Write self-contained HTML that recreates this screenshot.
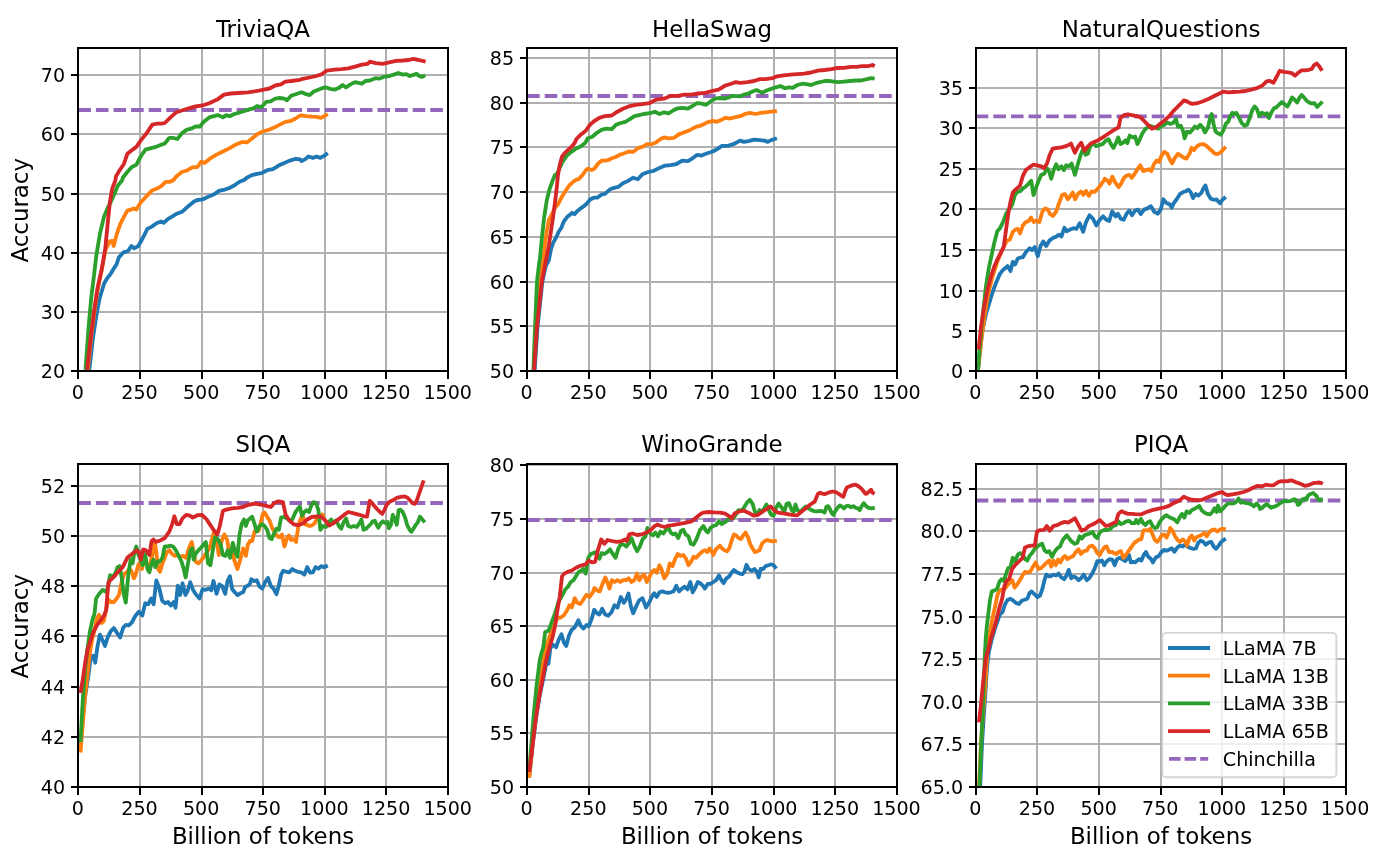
<!DOCTYPE html>
<html><head><meta charset="utf-8"><title>LLaMA training curves</title>
<style>html,body{margin:0;padding:0;background:#fff}svg{display:block}</style></head>
<body>
<svg width="1375" height="857" viewBox="0 0 1375 857" font-family="'DejaVu Sans', 'Liberation Sans', sans-serif">
<rect width="1375" height="857" fill="#fff"/>
<g id="ax0">
<clipPath id="clip0"><rect x="78" y="48.0" width="370" height="323.0"/></clipPath>
<path d="M78.00 48.0V371.0M140.00 48.0V371.0M202.00 48.0V371.0M263.00 48.0V371.0M325.00 48.0V371.0M386.00 48.0V371.0M448.00 48.0V371.0M78 371.00H448M78 312.00H448M78 253.00H448M78 194.00H448M78 134.00H448M78 75.00H448" stroke="#b0b0b0" stroke-width="2" fill="none"/>
<g clip-path="url(#clip0)" fill="none" stroke-width="3.82" stroke-linejoin="round" stroke-linecap="butt">
<path d="M78.30 110.00H448" stroke="#9467bd" stroke-dasharray="12.6 5.0"/>
<path d="M89.3 370.0 L92.8 339.3 L96.2 316.5 L99.6 298.3 L104.1 283.5 L107.5 277.8 L111.0 273.3 L114.4 267.6 L116.6 264.2 L118.9 257.4 L123.5 252.3 L128.0 251.0 L131.4 246.0 L134.2 248.3 L138.3 246.0 L142.8 238.0 L147.4 228.9 L151.9 226.6 L156.5 223.2 L161.0 221.4 L163.7 222.8 L167.8 219.1 L172.4 216.4 L176.9 213.7 L182.6 211.4 L188.3 206.2 L194.0 201.6 L197.4 200.0 L203.1 199.3 L208.8 196.4 L214.5 194.1 L219.0 190.9 L224.7 189.6 L229.3 188.0 L235.0 185.0 L239.5 181.8 L244.1 180.0 L246.8 177.7 L251.3 175.4 L257.0 173.8 L261.6 173.1 L267.2 170.2 L272.9 169.2 L278.6 165.6 L284.3 162.9 L290.0 160.6 L295.7 158.8 L300.0 159.4 L301.6 161.1 L305.0 159.4 L308.4 156.5 L313.0 157.9 L316.4 156.5 L320.5 157.9 L324.4 155.6 L327.8 153.1" stroke="#1f77b4"/>
<path d="M87.8 370.0 L90.9 339.3 L94.1 314.2 L97.3 291.5 L101.8 269.9 L105.3 250.5 L107.5 246.0 L109.8 241.4 L112.1 241.0 L113.7 246.0 L116.6 234.6 L120.1 224.4 L123.5 217.5 L127.3 210.7 L131.0 209.6 L133.7 208.4 L136.4 209.6 L140.5 202.8 L145.1 197.8 L148.5 194.1 L152.4 190.2 L156.5 188.7 L161.0 186.4 L165.6 181.8 L170.1 181.8 L173.5 180.0 L176.2 176.5 L181.9 172.0 L187.6 170.2 L192.2 167.4 L197.4 167.0 L201.2 161.7 L204.7 162.9 L210.3 158.3 L216.0 154.9 L222.9 151.5 L229.7 148.1 L236.5 144.2 L242.2 141.9 L246.8 142.4 L251.3 139.0 L257.0 134.4 L262.7 131.5 L268.4 129.9 L274.1 127.6 L279.8 124.6 L285.4 121.9 L291.1 120.8 L295.7 118.5 L300.0 115.5 L301.6 115.5 L306.2 116.2 L311.9 116.7 L316.4 116.9 L321.0 117.8 L324.4 116.2 L327.8 114.0" stroke="#ff7f0e"/>
<path d="M85.5 370.0 L88.7 325.6 L91.2 298.3 L93.7 277.8 L96.4 255.1 L100.0 233.5 L104.1 216.4 L107.5 208.4 L111.0 201.6 L114.4 193.7 L117.8 185.7 L122.3 180.0 L122.8 177.7 L127.3 172.0 L131.8 167.0 L136.4 164.7 L141.0 156.0 L145.5 149.7 L151.2 148.1 L155.8 146.9 L160.3 145.1 L164.8 143.5 L169.4 137.8 L172.8 137.8 L177.4 139.0 L181.9 133.3 L186.5 129.9 L191.0 128.7 L195.6 126.5 L200.1 126.5 L203.5 121.9 L209.2 117.4 L213.8 116.2 L218.3 115.1 L222.9 117.4 L226.3 115.1 L229.7 116.2 L234.2 114.0 L238.8 112.8 L244.5 111.0 L249.0 109.4 L253.6 108.3 L257.0 106.0 L261.6 107.1 L266.1 101.9 L270.6 101.4 L275.2 98.7 L279.8 98.0 L284.3 98.7 L287.0 100.3 L291.1 95.8 L295.7 94.2 L300.0 92.8 L301.6 92.3 L306.2 94.2 L309.6 95.1 L314.1 91.2 L317.5 90.1 L322.1 88.2 L325.5 87.3 L330.1 88.9 L334.6 89.6 L339.2 87.8 L342.6 85.0 L346.0 87.3 L350.5 84.4 L355.1 82.1 L358.5 82.8 L361.9 83.7 L365.3 81.0 L369.9 80.5 L375.6 78.2 L379.0 78.7 L383.5 76.9 L389.2 76.0 L393.8 74.6 L398.3 73.0 L402.9 74.6 L406.3 74.1 L409.7 76.0 L414.2 74.6 L416.5 73.7 L419.2 76.0 L422.2 76.9 L425.2 75.3" stroke="#2ca02c"/>
<path d="M87.1 370.0 L90.5 339.3 L93.9 312.0 L97.3 289.2 L101.8 268.7 L105.3 248.3 L107.5 225.5 L109.8 202.8 L112.1 189.1 L115.5 180.0 L115.9 176.5 L119.3 170.8 L123.9 164.0 L127.3 153.8 L131.8 150.3 L136.4 146.9 L141.0 140.1 L146.6 133.3 L152.3 124.6 L156.9 123.7 L161.4 123.7 L164.8 123.0 L170.5 117.4 L176.2 112.3 L181.9 110.5 L188.7 108.3 L195.6 106.4 L202.4 105.5 L209.2 103.2 L217.2 99.6 L224.0 94.6 L230.8 93.5 L238.8 93.0 L247.9 92.3 L257.0 91.0 L263.8 89.6 L269.5 88.5 L275.2 85.5 L280.9 84.4 L285.4 81.6 L291.1 81.0 L300.0 79.8 L301.6 79.1 L309.6 77.5 L316.4 76.0 L322.1 74.1 L326.6 70.7 L334.6 69.6 L341.4 69.1 L348.3 68.4 L355.1 66.6 L361.9 64.6 L367.6 63.9 L369.9 61.6 L375.6 63.2 L382.4 63.9 L389.2 62.3 L396.0 60.9 L402.9 60.5 L408.6 60.0 L413.1 58.9 L418.8 60.0 L425.6 61.6" stroke="#d62728"/>
</g>
<path d="M78.00 371.0v7.9M140.00 371.0v7.9M202.00 371.0v7.9M263.00 371.0v7.9M325.00 371.0v7.9M386.00 371.0v7.9M448.00 371.0v7.9M78 371.00h-7M78 312.00h-7M78 253.00h-7M78 194.00h-7M78 134.00h-7M78 75.00h-7" stroke="#000" stroke-width="2" fill="none"/>
<rect x="78" y="48.0" width="370" height="323.0" fill="none" stroke="#000" stroke-width="2"/>
<g font-size="19.1" fill="#000">
<text x="77.90" y="399.00" text-anchor="middle">0</text>
<text x="139.53" y="399.00" text-anchor="middle">250</text>
<text x="201.16" y="399.00" text-anchor="middle">500</text>
<text x="262.79" y="399.00" text-anchor="middle">750</text>
<text x="324.42" y="399.00" text-anchor="middle">1000</text>
<text x="386.05" y="399.00" text-anchor="middle">1250</text>
<text x="447.68" y="399.00" text-anchor="middle">1500</text>
<text x="65.10" y="378.20" text-anchor="end">20</text>
<text x="65.10" y="319.20" text-anchor="end">30</text>
<text x="65.10" y="260.20" text-anchor="end">40</text>
<text x="65.10" y="201.20" text-anchor="end">50</text>
<text x="65.10" y="141.20" text-anchor="end">60</text>
<text x="65.10" y="82.20" text-anchor="end">70</text>
</g>
<text x="263.00" y="37.2" font-size="22.9" text-anchor="middle">TriviaQA</text>
<text x="0" y="0" font-size="22.9" text-anchor="middle" transform="translate(28,210.30) rotate(-90)">Accuracy</text>
</g>
<g id="ax1">
<clipPath id="clip1"><rect x="527" y="48.0" width="370" height="323.0"/></clipPath>
<path d="M527.00 48.0V371.0M589.00 48.0V371.0M650.00 48.0V371.0M712.00 48.0V371.0M774.00 48.0V371.0M835.00 48.0V371.0M897.00 48.0V371.0M527 371.00H897M527 326.00H897M527 282.00H897M527 237.00H897M527 192.00H897M527 147.00H897M527 103.00H897M527 58.00H897" stroke="#b0b0b0" stroke-width="2" fill="none"/>
<g clip-path="url(#clip1)" fill="none" stroke-width="3.82" stroke-linejoin="round" stroke-linecap="butt">
<path d="M527.10 96.00H897" stroke="#9467bd" stroke-dasharray="12.6 5.0"/>
<path d="M534.4 375.0 L534.7 369.8 L537.5 327.1 L542.4 281.6 L545.8 266.0 L548.9 260.0 L551.0 249.2 L553.1 242.9 L555.9 238.0 L558.7 231.7 L561.5 227.5 L563.6 221.9 L567.1 217.0 L570.6 214.2 L572.0 212.8 L574.5 214.2 L576.9 211.4 L580.4 208.6 L584.6 205.6 L587.4 203.0 L590.2 199.5 L593.7 197.7 L597.2 197.7 L601.4 194.6 L604.9 193.9 L610.0 189.3 L614.0 187.9 L618.5 186.8 L623.0 183.3 L627.6 181.1 L633.3 177.7 L637.8 179.2 L642.4 174.2 L648.1 172.0 L653.8 170.8 L659.5 167.9 L665.1 165.6 L670.8 165.1 L676.5 164.0 L682.2 160.6 L687.9 161.1 L692.5 158.3 L697.0 154.9 L701.5 155.6 L707.2 153.3 L712.9 151.5 L717.5 148.8 L722.0 145.8 L727.7 145.8 L733.4 144.2 L740.0 140.6 L743.9 141.9 L748.4 141.2 L754.1 139.7 L759.8 140.1 L764.4 140.6 L767.8 141.9 L771.2 140.1 L776.9 138.3" stroke="#1f77b4"/>
<path d="M533.5 375.0 L536.0 327.1 L539.5 281.6 L542.6 262.0 L543.3 260.0 L544.7 246.4 L546.5 232.4 L548.9 219.8 L551.0 216.3 L554.5 208.6 L558.0 204.4 L561.5 197.4 L565.0 191.8 L569.2 185.5 L573.4 181.7 L576.2 179.9 L579.0 178.9 L582.5 175.0 L586.0 170.1 L588.1 168.7 L591.6 170.1 L594.4 168.7 L597.9 163.8 L601.4 160.7 L604.9 160.7 L610.0 159.6 L610.5 158.8 L615.1 157.2 L619.6 154.9 L624.2 153.3 L628.7 151.5 L633.3 151.9 L637.8 148.1 L642.4 146.9 L646.9 144.2 L651.5 144.2 L656.0 142.4 L660.6 139.0 L664.0 137.4 L668.6 138.3 L674.2 137.8 L678.8 134.4 L684.5 132.2 L690.2 129.9 L695.9 126.9 L701.5 125.3 L707.2 122.4 L712.9 120.8 L716.3 121.9 L720.9 120.1 L725.4 117.8 L730.0 118.5 L734.5 117.4 L740.0 116.2 L740.5 116.2 L745.0 114.0 L749.6 112.8 L755.3 114.0 L761.0 112.8 L765.5 112.3 L771.2 111.7 L776.9 111.0" stroke="#ff7f0e"/>
<path d="M533.2 375.0 L535.0 327.1 L537.0 281.6 L539.3 262.0 L539.8 260.0 L541.9 238.0 L544.0 218.4 L546.8 200.2 L549.6 189.0 L552.4 181.3 L554.9 175.0 L556.6 174.3 L558.7 170.1 L562.2 162.4 L566.4 156.1 L571.3 151.9 L576.2 148.4 L581.1 146.3 L585.3 142.8 L587.8 138.3 L592.3 136.7 L596.9 132.8 L601.4 129.9 L606.0 128.7 L611.7 129.2 L616.2 124.6 L620.8 123.0 L625.3 121.9 L629.9 119.2 L634.4 116.2 L639.0 115.1 L643.5 114.0 L648.1 113.3 L651.5 112.8 L654.9 111.7 L659.5 114.0 L664.0 112.3 L668.6 113.3 L673.1 110.5 L677.7 108.3 L682.2 107.8 L687.9 108.7 L692.5 106.0 L697.0 103.2 L701.5 103.7 L706.1 104.8 L710.6 101.4 L715.2 98.7 L719.8 98.0 L724.3 98.7 L728.9 97.3 L733.4 95.8 L740.0 96.4 L743.9 94.6 L748.4 93.5 L753.0 91.2 L756.4 90.1 L762.1 92.8 L766.6 90.5 L771.2 88.9 L775.8 87.3 L780.3 86.0 L784.9 88.2 L789.4 87.3 L792.8 87.8 L797.4 85.0 L803.0 83.7 L807.6 84.4 L811.0 85.0 L815.6 83.2 L820.1 82.1 L824.7 81.0 L829.2 81.0 L833.8 81.6 L838.3 82.1 L844.0 81.6 L849.7 81.0 L855.4 80.5 L861.1 80.5 L866.8 79.1 L871.3 78.2 L874.7 78.7" stroke="#2ca02c"/>
<path d="M533.8 375.0 L534.1 369.8 L536.9 327.1 L541.8 281.6 L545.6 262.0 L546.1 260.0 L548.9 245.0 L551.0 231.0 L553.1 217.0 L554.9 203.0 L556.6 189.0 L558.0 175.0 L559.7 165.2 L561.9 156.8 L563.9 154.0 L567.8 150.1 L572.0 146.3 L574.8 142.8 L576.4 139.0 L581.0 134.4 L585.5 131.0 L590.1 124.6 L594.6 120.8 L599.2 117.8 L604.9 116.2 L611.7 115.5 L617.4 111.7 L623.0 108.7 L628.7 106.4 L635.6 104.8 L642.4 104.2 L649.2 103.2 L656.0 99.6 L664.0 98.7 L670.8 95.8 L677.7 95.8 L684.5 94.6 L691.3 94.6 L698.1 93.5 L705.0 92.8 L711.8 91.2 L718.6 89.6 L725.4 85.5 L731.1 83.7 L735.7 82.1 L740.0 82.8 L740.5 82.8 L747.3 82.1 L754.1 81.0 L759.8 79.1 L765.5 79.1 L772.3 78.2 L776.9 76.4 L783.7 75.3 L790.5 74.6 L797.4 74.1 L804.2 73.7 L811.0 72.5 L817.8 70.7 L824.7 70.0 L831.5 69.1 L837.2 68.0 L844.0 67.8 L850.8 66.8 L856.5 66.8 L862.2 66.2 L867.9 66.2 L872.5 65.0 L874.7 66.2" stroke="#d62728"/>
</g>
<path d="M527.00 371.0v7.9M589.00 371.0v7.9M650.00 371.0v7.9M712.00 371.0v7.9M774.00 371.0v7.9M835.00 371.0v7.9M897.00 371.0v7.9M527 371.00h-7M527 326.00h-7M527 282.00h-7M527 237.00h-7M527 192.00h-7M527 147.00h-7M527 103.00h-7M527 58.00h-7" stroke="#000" stroke-width="2" fill="none"/>
<rect x="527" y="48.0" width="370" height="323.0" fill="none" stroke="#000" stroke-width="2"/>
<g font-size="19.1" fill="#000">
<text x="526.70" y="399.00" text-anchor="middle">0</text>
<text x="588.33" y="399.00" text-anchor="middle">250</text>
<text x="649.96" y="399.00" text-anchor="middle">500</text>
<text x="711.59" y="399.00" text-anchor="middle">750</text>
<text x="773.22" y="399.00" text-anchor="middle">1000</text>
<text x="834.85" y="399.00" text-anchor="middle">1250</text>
<text x="896.48" y="399.00" text-anchor="middle">1500</text>
<text x="514.10" y="378.20" text-anchor="end">50</text>
<text x="514.10" y="333.20" text-anchor="end">55</text>
<text x="514.10" y="289.20" text-anchor="end">60</text>
<text x="514.10" y="244.20" text-anchor="end">65</text>
<text x="514.10" y="199.20" text-anchor="end">70</text>
<text x="514.10" y="154.20" text-anchor="end">75</text>
<text x="514.10" y="110.20" text-anchor="end">80</text>
<text x="514.10" y="65.20" text-anchor="end">85</text>
</g>
<text x="712.00" y="37.2" font-size="22.9" text-anchor="middle">HellaSwag</text>
</g>
<g id="ax2">
<clipPath id="clip2"><rect x="976" y="48.0" width="370" height="323.0"/></clipPath>
<path d="M976.00 48.0V371.0M1037.00 48.0V371.0M1099.00 48.0V371.0M1161.00 48.0V371.0M1222.00 48.0V371.0M1284.00 48.0V371.0M1346.00 48.0V371.0M976 371.00H1346M976 331.00H1346M976 291.00H1346M976 250.00H1346M976 209.00H1346M976 169.00H1346M976 128.00H1346M976 88.00H1346" stroke="#b0b0b0" stroke-width="2" fill="none"/>
<g clip-path="url(#clip2)" fill="none" stroke-width="3.82" stroke-linejoin="round" stroke-linecap="butt">
<path d="M975.75 116.40H1346" stroke="#9467bd" stroke-dasharray="12.6 5.0"/>
<path d="M978.0 370.0 L980.2 348.4 L982.5 330.2 L985.9 314.2 L989.3 302.9 L992.8 291.5 L996.2 282.4 L999.6 274.4 L1003.0 269.9 L1006.0 267.6 L1007.5 266.0 L1010.5 271.0 L1012.8 261.9 L1015.0 264.6 L1017.8 258.5 L1020.5 257.4 L1022.8 257.4 L1025.8 252.3 L1029.6 248.3 L1031.9 250.1 L1034.8 247.1 L1037.8 256.2 L1040.5 246.0 L1043.3 241.4 L1046.2 246.0 L1049.6 240.3 L1053.0 238.0 L1056.5 236.4 L1059.2 234.6 L1061.5 236.4 L1064.4 227.8 L1066.7 231.2 L1070.1 229.6 L1073.5 228.2 L1076.5 228.9 L1079.7 223.2 L1083.1 231.9 L1086.0 222.1 L1089.5 215.3 L1092.9 218.7 L1096.3 225.5 L1099.7 219.8 L1103.1 216.4 L1106.5 219.8 L1109.2 221.0 L1112.2 211.4 L1115.6 216.4 L1117.9 213.7 L1120.6 218.7 L1123.6 219.8 L1127.0 213.0 L1129.3 210.7 L1132.0 215.3 L1135.0 210.7 L1137.9 209.6 L1140.7 214.1 L1144.1 209.6 L1147.5 208.4 L1150.9 206.2 L1154.3 211.8 L1157.7 213.7 L1160.7 209.6 L1163.4 199.3 L1166.1 202.8 L1170.0 204.6 L1171.7 207.7 L1174.0 202.8 L1176.9 199.0 L1179.8 194.2 L1182.7 192.3 L1185.6 191.3 L1188.5 189.8 L1190.0 191.3 L1190.6 192.1 L1193.1 197.9 L1195.8 194.0 L1198.3 195.6 L1201.2 193.1 L1203.5 188.2 L1205.4 185.4 L1207.9 194.0 L1210.8 198.8 L1213.7 199.8 L1216.6 199.4 L1220.0 203.3 L1222.7 199.4 L1225.8 196.9" stroke="#1f77b4"/>
<path d="M978.0 370.0 L981.4 339.3 L984.8 314.2 L988.2 293.8 L992.8 275.6 L997.3 261.9 L1001.9 250.5 L1005.3 243.7 L1007.5 240.3 L1009.8 239.6 L1012.8 231.9 L1015.5 229.6 L1017.8 228.9 L1020.1 233.5 L1022.8 225.5 L1025.8 222.1 L1028.7 221.0 L1031.0 217.5 L1033.7 222.1 L1036.4 220.5 L1039.4 222.1 L1042.3 211.8 L1045.1 208.4 L1047.8 209.6 L1050.1 214.1 L1053.0 215.9 L1056.0 211.8 L1059.2 202.8 L1062.2 194.8 L1065.1 194.1 L1067.8 199.3 L1070.6 195.9 L1072.8 192.5 L1075.1 199.3 L1078.1 193.7 L1081.0 191.4 L1083.3 194.8 L1086.0 190.9 L1088.8 195.9 L1091.7 191.4 L1094.7 191.8 L1097.4 189.1 L1100.8 185.0 L1104.2 180.0 L1104.7 178.8 L1107.6 180.7 L1109.5 183.6 L1112.4 176.8 L1115.3 182.6 L1118.6 187.1 L1121.1 183.6 L1124.0 177.8 L1126.8 175.5 L1129.4 174.9 L1131.7 177.8 L1134.6 174.0 L1137.4 169.2 L1140.3 165.3 L1143.2 171.1 L1146.1 170.1 L1149.0 169.2 L1151.3 171.1 L1153.8 164.3 L1156.7 160.5 L1159.0 162.0 L1161.5 155.7 L1164.4 151.8 L1167.3 153.8 L1169.8 159.5 L1172.1 163.4 L1175.0 157.6 L1177.9 153.8 L1180.8 155.7 L1183.7 157.6 L1186.5 158.6 L1190.0 152.8 L1191.5 147.8 L1193.9 150.1 L1196.4 146.8 L1199.2 144.9 L1202.7 144.0 L1206.0 145.5 L1208.9 148.2 L1211.8 150.7 L1214.7 153.6 L1217.5 154.0 L1220.4 152.6 L1223.3 149.4 L1225.8 146.8" stroke="#ff7f0e"/>
<path d="M978.0 370.0 L979.6 348.4 L981.4 327.9 L983.6 307.4 L985.9 286.9 L988.7 268.7 L991.6 255.1 L994.6 241.4 L997.3 231.2 L1000.0 228.2 L1003.0 222.1 L1006.0 214.1 L1009.1 209.1 L1012.1 205.0 L1015.0 194.8 L1018.2 191.4 L1020.0 191.3 L1022.9 188.4 L1025.8 186.5 L1028.7 183.6 L1031.2 180.7 L1033.5 195.1 L1035.4 189.4 L1038.3 181.7 L1041.2 174.9 L1044.1 174.0 L1047.0 168.2 L1049.3 172.0 L1051.2 178.8 L1053.7 170.1 L1056.2 164.3 L1058.5 169.2 L1061.4 166.3 L1063.9 170.1 L1066.2 165.3 L1069.1 166.3 L1071.6 163.4 L1074.9 174.9 L1077.8 164.3 L1080.7 154.7 L1083.2 148.9 L1085.5 154.7 L1087.8 153.8 L1090.3 146.1 L1093.2 143.2 L1096.0 146.1 L1098.9 145.1 L1102.8 144.1 L1105.7 140.8 L1108.6 139.3 L1110.9 144.1 L1113.4 148.0 L1115.9 143.2 L1118.2 137.4 L1120.5 144.1 L1123.0 142.8 L1125.5 140.3 L1127.4 143.2 L1129.7 135.5 L1132.6 137.4 L1135.1 136.4 L1137.4 144.1 L1139.8 139.3 L1142.3 133.5 L1144.8 129.7 L1147.1 127.8 L1150.0 125.8 L1152.8 126.8 L1155.7 127.8 L1158.2 128.7 L1161.5 125.8 L1164.4 124.9 L1167.3 122.4 L1170.2 123.9 L1173.1 123.0 L1176.0 119.1 L1177.9 126.8 L1180.8 125.8 L1183.3 131.6 L1184.6 138.3 L1187.1 131.6 L1190.0 132.6 L1192.5 129.5 L1195.0 126.6 L1197.3 128.2 L1200.2 124.7 L1202.7 127.6 L1205.0 132.4 L1207.9 127.6 L1210.4 117.0 L1211.8 114.1 L1213.7 124.7 L1215.6 131.4 L1218.1 133.4 L1220.8 134.7 L1223.3 130.5 L1225.8 123.8 L1228.1 121.8 L1230.4 116.0 L1232.4 112.8 L1234.3 114.1 L1236.2 112.8 L1238.7 117.0 L1241.6 122.8 L1244.5 125.7 L1247.0 124.7 L1249.7 118.0 L1252.2 110.3 L1254.7 106.4 L1257.0 109.3 L1259.3 116.0 L1261.8 112.8 L1264.7 114.1 L1267.0 113.2 L1269.0 118.0 L1271.5 112.2 L1274.0 108.3 L1276.3 107.4 L1279.2 104.5 L1282.0 102.0 L1284.9 104.5 L1287.4 106.4 L1289.7 102.6 L1292.0 97.4 L1294.6 99.7 L1297.1 102.6 L1299.4 97.8 L1301.7 94.9 L1304.2 97.8 L1306.7 100.7 L1309.4 102.6 L1311.9 103.5 L1314.4 103.2 L1317.1 107.0 L1319.6 104.5 L1322.5 101.6" stroke="#2ca02c"/>
<path d="M978.6 349.5 L980.9 327.9 L983.6 309.7 L987.1 291.5 L990.5 277.8 L993.9 267.6 L997.3 259.6 L1000.7 252.8 L1003.7 247.1 L1006.0 230.1 L1008.2 214.1 L1010.5 201.6 L1012.8 192.5 L1015.5 189.6 L1018.9 186.8 L1020.0 185.5 L1022.9 175.9 L1025.8 170.1 L1029.6 167.2 L1033.5 164.7 L1037.3 165.3 L1041.2 166.3 L1044.1 168.2 L1047.0 163.4 L1049.8 154.7 L1052.7 148.6 L1056.6 148.0 L1061.4 147.4 L1066.2 146.1 L1071.0 143.6 L1074.9 152.8 L1077.8 147.0 L1081.2 142.8 L1084.5 150.9 L1087.4 147.0 L1091.2 143.2 L1097.0 140.8 L1102.8 137.4 L1108.6 133.5 L1114.3 129.7 L1118.6 127.4 L1120.5 117.8 L1124.0 115.2 L1127.8 114.3 L1131.7 115.2 L1136.5 116.2 L1140.3 117.2 L1144.2 121.0 L1148.0 124.9 L1151.9 128.7 L1155.7 127.4 L1160.5 123.5 L1165.4 119.7 L1169.2 116.2 L1173.1 111.4 L1176.9 107.5 L1180.8 103.7 L1183.7 100.4 L1186.5 101.2 L1190.0 103.1 L1192.5 103.9 L1197.3 103.2 L1203.1 101.2 L1208.9 98.7 L1214.7 95.8 L1219.5 93.5 L1223.3 91.6 L1228.1 92.4 L1233.9 92.0 L1239.7 91.6 L1245.5 91.0 L1251.2 89.7 L1257.0 88.1 L1262.8 85.2 L1266.6 81.4 L1269.5 80.8 L1273.4 82.7 L1276.3 77.5 L1279.7 70.8 L1284.0 71.8 L1287.8 72.3 L1291.7 73.1 L1295.1 75.6 L1297.8 73.1 L1301.3 70.4 L1305.1 70.4 L1309.0 69.8 L1311.9 68.9 L1313.8 65.4 L1316.7 63.5 L1319.0 66.0 L1322.1 70.8" stroke="#d62728"/>
</g>
<path d="M976.00 371.0v7.9M1037.00 371.0v7.9M1099.00 371.0v7.9M1161.00 371.0v7.9M1222.00 371.0v7.9M1284.00 371.0v7.9M1346.00 371.0v7.9M976 371.00h-7M976 331.00h-7M976 291.00h-7M976 250.00h-7M976 209.00h-7M976 169.00h-7M976 128.00h-7M976 88.00h-7" stroke="#000" stroke-width="2" fill="none"/>
<rect x="976" y="48.0" width="370" height="323.0" fill="none" stroke="#000" stroke-width="2"/>
<g font-size="19.1" fill="#000">
<text x="975.35" y="399.00" text-anchor="middle">0</text>
<text x="1036.98" y="399.00" text-anchor="middle">250</text>
<text x="1098.61" y="399.00" text-anchor="middle">500</text>
<text x="1160.24" y="399.00" text-anchor="middle">750</text>
<text x="1221.87" y="399.00" text-anchor="middle">1000</text>
<text x="1283.50" y="399.00" text-anchor="middle">1250</text>
<text x="1345.13" y="399.00" text-anchor="middle">1500</text>
<text x="963.10" y="378.20" text-anchor="end">0</text>
<text x="963.10" y="338.20" text-anchor="end">5</text>
<text x="963.10" y="298.20" text-anchor="end">10</text>
<text x="963.10" y="257.20" text-anchor="end">15</text>
<text x="963.10" y="216.20" text-anchor="end">20</text>
<text x="963.10" y="176.20" text-anchor="end">25</text>
<text x="963.10" y="135.20" text-anchor="end">30</text>
<text x="963.10" y="95.20" text-anchor="end">35</text>
</g>
<text x="1161.00" y="37.2" font-size="22.9" text-anchor="middle">NaturalQuestions</text>
</g>
<g id="ax3">
<clipPath id="clip3"><rect x="78" y="464.0" width="370" height="323.0"/></clipPath>
<path d="M78.00 464.0V787.0M140.00 464.0V787.0M202.00 464.0V787.0M263.00 464.0V787.0M325.00 464.0V787.0M386.00 464.0V787.0M448.00 464.0V787.0M78 787.00H448M78 737.00H448M78 687.00H448M78 636.00H448M78 586.00H448M78 536.00H448M78 486.00H448" stroke="#b0b0b0" stroke-width="2" fill="none"/>
<g clip-path="url(#clip3)" fill="none" stroke-width="3.82" stroke-linejoin="round" stroke-linecap="butt">
<path d="M78.30 503.00H448" stroke="#9467bd" stroke-dasharray="12.6 5.0"/>
<path d="M80.5 744.4 L82.8 718.7 L85.2 695.4 L88.2 676.7 L90.5 659.2 L92.9 655.7 L95.2 662.7 L97.5 646.4 L99.9 634.7 L102.7 640.5 L105.0 645.9 L107.8 637.0 L110.8 631.2 L113.9 628.1 L116.7 632.4 L120.2 637.5 L123.2 627.7 L126.0 624.9 L128.8 625.3 L131.8 622.5 L135.3 616.0 L138.8 611.8 L142.3 615.5 L145.2 603.2 L148.2 604.3 L151.2 598.5 L153.6 604.3 L156.3 580.5 L159.2 588.0 L162.2 600.8 L165.2 603.2 L168.0 602.0 L170.8 605.5 L173.8 602.0 L175.5 607.8 L177.8 585.7 L180.2 595.0 L182.5 583.3 L185.5 595.0 L187.8 590.3 L190.2 582.2 L193.2 590.3 L196.0 594.5 L199.5 598.5 L202.6 589.2 L205.4 589.9 L208.9 588.5 L211.2 590.3 L213.5 581.0 L216.6 593.8 L219.4 584.5 L222.2 586.1 L225.2 593.8 L227.5 581.0 L229.9 576.3 L232.2 589.2 L235.2 592.7 L237.6 595.0 L239.9 593.8 L240.3 593.2 L243.1 592.3 L245.3 586.7 L247.8 585.8 L250.0 583.9 L251.2 579.2 L254.0 581.1 L256.8 580.2 L259.6 586.7 L262.4 588.6 L265.2 582.0 L268.0 577.9 L270.8 585.8 L273.6 588.6 L276.4 594.2 L278.8 585.8 L281.1 574.6 L283.3 570.8 L286.7 571.8 L289.5 572.3 L292.3 569.0 L295.1 570.8 L297.9 571.8 L301.2 572.3 L304.4 574.6 L307.2 567.1 L310.0 572.7 L312.8 572.3 L315.6 567.1 L318.4 568.6 L321.2 566.1 L324.0 567.1 L327.8 565.6" stroke="#1f77b4"/>
<path d="M80.5 752.5 L82.8 723.4 L85.2 695.4 L87.5 674.4 L89.8 653.4 L92.2 639.4 L94.5 630.0 L96.8 618.3 L99.2 614.8 L101.5 623.0 L103.8 621.1 L106.2 609.0 L108.5 599.7 L110.8 602.0 L113.9 602.0 L116.7 598.5 L119.0 595.0 L121.3 583.3 L124.1 574.0 L127.2 571.7 L129.2 569.0 L131.4 570.8 L133.9 578.3 L135.7 574.6 L138.2 565.2 L140.0 562.4 L141.9 569.0 L144.1 559.6 L146.4 563.4 L148.8 567.1 L150.7 561.5 L153.1 552.1 L155.0 543.8 L156.3 552.1 L158.2 569.0 L160.0 571.8 L162.4 563.4 L164.7 557.8 L166.9 552.1 L169.3 550.3 L172.2 554.0 L174.9 555.9 L177.8 555.0 L180.6 556.8 L183.3 555.9 L186.2 557.8 L188.9 548.4 L191.8 541.9 L193.6 552.1 L195.5 561.5 L198.3 563.4 L201.1 560.5 L203.9 556.8 L206.7 552.1 L209.5 548.4 L212.3 538.1 L214.2 531.6 L216.6 541.0 L218.8 555.0 L221.6 541.0 L224.4 534.4 L227.2 540.0 L229.7 555.9 L232.3 552.1 L234.7 561.5 L237.5 569.0 L240.3 559.6 L243.1 548.4 L245.9 555.9 L247.8 544.7 L250.0 541.0 L252.1 541.0 L254.6 531.6 L256.8 527.9 L258.7 530.7 L260.9 522.3 L262.8 513.9 L264.6 512.6 L267.1 516.7 L269.9 521.3 L272.1 527.9 L274.5 531.6 L277.3 536.3 L279.6 537.2 L282.0 534.4 L284.4 546.5 L286.7 539.1 L288.9 535.4 L291.3 540.0 L293.8 539.1 L296.0 541.9 L298.2 527.0 L300.1 520.4 L302.6 514.8 L305.0 524.1 L307.6 525.1 L310.0 526.0 L312.4 525.1 L314.7 523.2 L317.5 517.6 L320.3 515.7 L322.1 514.4 L324.4 516.7" stroke="#ff7f0e"/>
<path d="M80.5 742.0 L82.8 700.0 L85.2 667.4 L87.5 648.7 L89.8 632.4 L92.2 620.7 L94.5 613.7 L96.1 598.5 L99.2 593.8 L102.7 589.9 L105.5 591.5 L107.8 588.0 L110.1 575.2 L112.5 577.5 L115.5 572.8 L117.6 567.1 L119.5 566.1 L121.7 577.4 L123.6 593.2 L125.8 602.6 L128.3 574.6 L130.7 559.6 L132.6 563.4 L134.4 552.1 L136.3 546.5 L138.2 554.0 L140.4 559.6 L142.7 565.2 L145.1 554.0 L147.5 569.0 L149.4 572.3 L151.6 563.4 L153.5 559.6 L155.3 567.1 L157.6 561.5 L160.0 561.5 L162.4 557.8 L164.7 546.5 L167.5 546.5 L170.3 545.6 L173.1 546.5 L175.9 550.3 L178.7 555.9 L181.5 561.5 L183.7 569.0 L185.6 577.4 L188.0 563.4 L190.4 550.3 L192.3 548.4 L193.6 559.6 L195.5 554.0 L198.3 550.3 L201.1 547.5 L203.5 544.7 L205.8 541.9 L208.0 563.4 L210.4 565.2 L212.8 550.3 L215.1 537.2 L217.9 539.1 L220.7 544.7 L222.9 555.0 L225.4 555.9 L227.8 550.3 L230.0 557.8 L232.8 542.8 L235.3 552.1 L237.5 556.8 L239.4 535.4 L241.6 524.1 L244.0 519.5 L245.9 526.0 L247.8 520.4 L250.0 518.5 L252.1 516.7 L254.6 524.1 L256.8 531.6 L259.6 526.0 L262.0 524.1 L264.6 526.0 L267.1 529.8 L269.5 538.1 L271.7 539.1 L274.0 533.5 L276.4 528.8 L278.8 529.8 L281.1 517.6 L283.9 516.7 L286.7 518.5 L289.5 520.4 L292.3 519.5 L295.1 512.9 L297.5 509.2 L299.8 506.4 L302.0 515.7 L304.4 512.0 L306.8 510.1 L309.1 512.0 L311.3 505.5 L313.8 502.1 L316.2 503.6 L318.4 510.1 L320.3 529.8 L323.1 526.0 L325.9 527.0 L328.7 522.3 L331.1 519.5 L333.4 523.2 L336.1 520.4 L338.9 526.0 L341.2 528.8 L343.6 522.3 L346.1 518.5 L348.3 526.0 L351.1 527.0 L353.9 526.0 L356.7 527.0 L359.5 523.2 L361.4 519.5 L363.6 529.8 L366.0 528.8 L368.8 526.0 L371.6 523.2 L372.3 521.8 L374.7 520.7 L376.4 524.2 L378.2 527.7 L380.5 523.6 L382.8 521.3 L385.2 523.0 L387.3 521.8 L388.9 528.3 L390.8 525.3 L392.8 514.8 L394.5 518.3 L396.8 524.8 L398.6 510.2 L400.3 509.6 L402.7 511.9 L405.0 517.2 L407.3 525.3 L409.7 530.0 L411.4 531.8 L413.4 528.8 L415.5 525.3 L417.8 522.4 L419.9 516.6 L421.9 518.9 L424.8 522.4" stroke="#2ca02c"/>
<path d="M80.5 693.0 L82.8 679.0 L85.2 662.7 L87.5 649.9 L90.5 640.5 L93.3 632.4 L96.8 625.3 L100.3 620.7 L103.8 616.0 L106.2 610.2 L107.3 595.0 L108.5 582.2 L112.0 578.7 L114.3 576.4 L118.0 571.8 L122.7 567.1 L127.3 557.8 L132.0 554.0 L136.7 550.3 L138.9 552.1 L140.8 559.6 L143.2 549.4 L146.0 550.3 L149.4 555.0 L151.6 541.0 L153.5 539.5 L155.7 541.9 L160.0 540.6 L164.7 538.1 L169.3 531.6 L172.2 524.1 L174.4 516.3 L176.8 524.1 L179.6 524.1 L182.4 518.5 L186.2 514.8 L189.9 515.7 L192.7 517.6 L197.4 515.2 L202.0 514.8 L206.7 519.5 L210.4 525.1 L214.2 530.7 L217.3 534.4 L219.8 526.0 L222.9 511.1 L226.3 509.6 L231.9 508.3 L237.5 507.9 L243.1 507.0 L247.8 505.1 L250.0 504.5 L254.9 503.6 L260.5 504.5 L266.1 505.9 L270.8 507.0 L274.5 502.7 L278.3 501.4 L282.9 502.1 L285.7 514.8 L289.5 520.8 L294.1 524.5 L298.8 525.1 L303.5 523.2 L307.2 519.5 L311.9 517.0 L316.6 516.3 L321.2 516.7 L324.9 520.0 L329.2 525.6 L333.4 523.2 L338.9 518.9 L344.6 514.4 L348.3 512.0 L353.9 513.3 L359.5 514.8 L364.2 516.3 L367.0 516.7 L369.8 500.8 L372.6 503.6 L373.5 504.9 L377.0 509.0 L379.9 511.9 L382.2 513.7 L384.6 509.6 L386.9 504.3 L389.2 502.0 L392.8 500.3 L396.8 497.9 L400.9 496.8 L404.4 496.4 L407.3 497.6 L410.3 500.6 L412.6 503.4 L414.9 503.8 L416.7 500.8 L419.0 493.8 L421.3 487.4 L423.7 480.4" stroke="#d62728"/>
</g>
<path d="M78.00 787.0v7.9M140.00 787.0v7.9M202.00 787.0v7.9M263.00 787.0v7.9M325.00 787.0v7.9M386.00 787.0v7.9M448.00 787.0v7.9M78 787.00h-7M78 737.00h-7M78 687.00h-7M78 636.00h-7M78 586.00h-7M78 536.00h-7M78 486.00h-7" stroke="#000" stroke-width="2" fill="none"/>
<rect x="78" y="464.0" width="370" height="323.0" fill="none" stroke="#000" stroke-width="2"/>
<g font-size="19.1" fill="#000">
<text x="77.90" y="815.00" text-anchor="middle">0</text>
<text x="139.53" y="815.00" text-anchor="middle">250</text>
<text x="201.16" y="815.00" text-anchor="middle">500</text>
<text x="262.79" y="815.00" text-anchor="middle">750</text>
<text x="324.42" y="815.00" text-anchor="middle">1000</text>
<text x="386.05" y="815.00" text-anchor="middle">1250</text>
<text x="447.68" y="815.00" text-anchor="middle">1500</text>
<text x="65.10" y="794.20" text-anchor="end">40</text>
<text x="65.10" y="744.20" text-anchor="end">42</text>
<text x="65.10" y="694.20" text-anchor="end">44</text>
<text x="65.10" y="643.20" text-anchor="end">46</text>
<text x="65.10" y="593.20" text-anchor="end">48</text>
<text x="65.10" y="543.20" text-anchor="end">50</text>
<text x="65.10" y="493.20" text-anchor="end">52</text>
</g>
<text x="263.00" y="452.4" font-size="22.9" text-anchor="middle">SIQA</text>
<text x="263.00" y="844" font-size="22.9" text-anchor="middle">Billion of tokens</text>
<text x="0" y="0" font-size="22.9" text-anchor="middle" transform="translate(28,626.30) rotate(-90)">Accuracy</text>
</g>
<g id="ax4">
<clipPath id="clip4"><rect x="527" y="464.0" width="370" height="323.0"/></clipPath>
<path d="M527.00 464.0V787.0M589.00 464.0V787.0M650.00 464.0V787.0M712.00 464.0V787.0M774.00 464.0V787.0M835.00 464.0V787.0M897.00 464.0V787.0M527 787.00H897M527 733.00H897M527 680.00H897M527 626.00H897M527 573.00H897M527 519.00H897M527 465.00H897" stroke="#b0b0b0" stroke-width="2" fill="none"/>
<g clip-path="url(#clip4)" fill="none" stroke-width="3.82" stroke-linejoin="round" stroke-linecap="butt">
<path d="M527.10 520.00H897" stroke="#9467bd" stroke-dasharray="12.6 5.0"/>
<path d="M529.3 775.5 L532.8 744.0 L536.3 716.0 L539.8 695.0 L543.3 678.7 L546.1 664.7 L548.5 663.5 L550.3 648.3 L553.1 644.8 L556.2 647.2 L558.5 640.2 L561.5 634.3 L563.9 642.5 L566.2 646.0 L569.0 635.5 L571.8 629.7 L574.8 627.3 L578.3 620.3 L581.1 626.2 L583.5 628.5 L586.5 625.0 L588.8 626.2 L591.9 618.0 L594.2 609.8 L597.0 613.3 L599.4 614.5 L602.1 608.7 L605.2 614.5 L608.2 615.7 L611.5 612.2 L614.5 605.2 L617.5 607.5 L620.8 597.0 L623.9 602.8 L626.2 599.3 L628.5 593.5 L630.9 606.3 L633.2 613.3 L636.2 606.3 L639.0 600.5 L642.5 598.2 L646.0 607.5 L649.5 601.7 L653.0 594.7 L654.3 593.2 L656.7 597.0 L659.5 592.3 L662.3 591.4 L665.1 592.3 L667.9 592.9 L670.7 592.3 L673.5 591.4 L676.3 585.8 L679.1 591.4 L681.9 588.6 L684.7 586.7 L687.5 589.5 L690.3 582.0 L692.7 592.3 L695.3 587.6 L697.8 582.0 L700.0 583.0 L703.1 585.8 L704.9 588.6 L707.7 583.9 L710.5 583.9 L713.3 582.0 L716.1 580.2 L718.9 575.5 L721.4 580.2 L723.6 583.0 L726.4 578.3 L729.2 576.4 L731.5 572.7 L733.9 569.9 L736.7 572.3 L739.5 573.6 L742.3 574.2 L744.5 571.8 L746.4 564.9 L748.8 569.0 L751.6 570.8 L754.4 569.0 L756.8 571.8 L758.7 577.4 L760.6 569.0 L763.2 569.0 L765.6 566.1 L768.4 565.2 L771.2 564.3 L773.6 565.2 L776.3 568.6" stroke="#1f77b4"/>
<path d="M529.3 777.9 L532.8 741.7 L536.3 711.4 L539.8 685.7 L543.3 660.0 L546.8 644.8 L550.3 634.3 L553.8 626.2 L557.3 618.0 L560.8 617.5 L563.9 615.2 L566.7 611.0 L569.5 605.2 L571.8 607.5 L574.8 598.2 L577.2 602.8 L580.2 604.0 L583.5 599.3 L586.5 594.7 L589.5 597.0 L592.8 592.3 L594.5 588.0 L597.0 590.4 L599.8 591.4 L602.5 583.9 L605.4 577.4 L607.6 583.0 L609.5 588.6 L611.9 580.2 L614.7 582.0 L617.5 580.2 L620.3 582.0 L623.1 580.2 L625.9 580.2 L628.7 578.3 L631.5 582.0 L634.3 580.2 L637.1 573.6 L639.3 580.2 L641.8 576.4 L644.2 574.6 L646.8 582.0 L649.2 577.4 L652.0 571.8 L654.3 569.9 L656.7 572.7 L659.5 565.2 L661.7 569.9 L664.2 578.3 L667.0 574.6 L669.8 563.4 L672.6 566.1 L674.8 559.6 L677.8 554.0 L680.4 555.9 L683.4 555.0 L686.0 558.7 L688.4 565.2 L691.2 561.5 L693.5 556.8 L695.9 557.8 L700.0 553.6 L702.7 551.2 L704.9 550.3 L707.2 552.1 L709.6 548.4 L712.0 552.1 L713.3 555.0 L715.8 549.4 L718.0 547.5 L719.9 545.6 L722.1 548.4 L724.5 550.3 L727.0 551.2 L729.2 548.4 L731.5 541.0 L733.9 534.4 L736.3 535.4 L738.5 538.1 L740.8 539.1 L743.2 535.4 L745.6 532.5 L747.9 537.2 L750.1 543.8 L752.5 548.4 L755.0 552.1 L757.2 551.2 L759.5 550.3 L761.9 543.8 L764.7 541.0 L767.5 540.0 L770.3 541.0 L773.1 541.3 L776.8 540.6" stroke="#ff7f0e"/>
<path d="M529.3 769.7 L531.7 739.4 L534.0 711.4 L536.8 683.4 L539.8 660.0 L541.5 653.0 L543.3 647.2 L545.2 632.0 L548.5 630.8 L551.5 622.7 L555.0 613.3 L558.5 601.7 L562.0 595.8 L565.2 589.5 L568.0 586.7 L570.8 582.0 L573.6 580.2 L576.4 575.5 L578.8 571.8 L581.1 570.8 L583.3 569.0 L585.7 573.6 L588.2 557.8 L590.8 554.0 L593.2 553.1 L596.0 552.1 L599.4 558.7 L601.6 553.1 L604.4 554.0 L607.2 552.1 L610.0 549.4 L612.8 554.0 L615.6 557.8 L618.4 548.4 L621.2 543.8 L624.0 544.7 L626.3 546.5 L629.2 542.8 L631.5 538.1 L634.3 545.6 L637.1 551.2 L639.9 546.5 L642.7 539.1 L645.5 536.3 L647.4 527.9 L650.2 533.5 L653.0 535.4 L655.4 532.5 L658.0 536.3 L660.4 531.6 L663.2 533.5 L666.0 529.8 L668.5 527.9 L670.7 532.5 L672.9 534.4 L675.4 533.5 L678.2 538.1 L681.0 530.7 L683.4 529.8 L685.6 534.4 L688.4 536.3 L690.9 543.8 L693.5 544.7 L696.5 539.1 L700.0 529.8 L701.2 528.8 L703.4 526.0 L705.9 530.7 L707.7 532.5 L710.5 527.9 L713.3 526.0 L716.1 525.1 L718.9 521.3 L721.7 524.1 L724.5 522.3 L727.3 520.4 L730.1 517.6 L732.9 518.5 L735.7 514.8 L738.5 510.1 L741.3 511.1 L744.1 507.3 L747.0 502.7 L749.8 499.9 L752.5 503.6 L755.0 512.0 L757.2 514.8 L759.5 510.1 L761.9 512.0 L764.3 508.3 L766.5 504.5 L768.8 510.1 L771.2 514.8 L773.6 515.7 L775.9 508.3 L778.7 503.6 L781.5 507.3 L784.3 512.0 L786.7 503.6 L789.0 503.2 L791.8 510.1 L793.6 512.0 L795.5 504.5 L797.4 510.1 L800.2 512.0 L803.0 509.2 L805.8 506.4 L808.6 508.3 L811.4 510.1 L814.2 511.1 L817.0 511.4 L820.0 510.8 L822.3 511.3 L824.7 512.5 L826.4 506.7 L828.2 506.1 L829.9 509.0 L831.7 513.1 L833.4 514.8 L835.2 511.3 L837.5 507.8 L839.8 505.5 L842.2 506.7 L843.9 508.4 L846.2 506.1 L848.6 505.7 L850.9 507.3 L853.3 506.1 L855.6 507.8 L857.9 508.4 L859.7 510.2 L861.4 506.7 L863.8 503.2 L866.1 506.1 L868.4 507.8 L871.3 508.4 L874.8 507.8" stroke="#2ca02c"/>
<path d="M529.3 772.0 L532.1 748.7 L535.2 723.0 L538.7 699.7 L542.2 681.0 L545.7 662.4 L549.2 648.3 L552.7 636.7 L555.0 626.2 L557.3 611.0 L559.7 597.0 L562.0 576.4 L564.3 573.6 L568.0 571.8 L571.7 570.5 L576.4 567.5 L581.1 565.6 L585.7 564.3 L588.9 560.5 L591.9 562.4 L595.1 561.9 L597.9 550.3 L601.2 539.5 L604.4 543.8 L607.6 540.0 L611.9 541.0 L616.5 541.9 L621.2 541.3 L625.0 539.5 L626.8 541.0 L629.2 534.4 L632.4 533.5 L637.1 535.0 L641.8 534.4 L646.4 532.5 L651.1 529.8 L654.3 526.4 L657.2 524.5 L661.0 526.0 L664.7 527.0 L668.5 525.6 L672.6 525.1 L678.2 524.1 L683.8 523.2 L689.4 521.9 L691.6 521.3 L695.0 518.5 L700.0 514.4 L703.1 512.6 L708.7 512.0 L714.3 512.4 L719.9 512.6 L724.5 513.3 L728.3 515.7 L732.0 518.2 L734.8 513.3 L739.5 511.4 L744.1 510.7 L748.8 512.9 L753.5 515.7 L758.1 514.8 L762.8 511.4 L767.5 508.3 L770.7 506.4 L774.0 510.1 L777.8 512.6 L783.4 513.3 L789.0 514.4 L793.6 515.2 L796.8 515.4 L801.1 512.0 L805.8 508.3 L810.4 504.5 L814.7 501.7 L817.9 493.9 L820.0 492.7 L822.3 493.6 L824.7 494.1 L827.0 493.3 L829.9 492.1 L832.8 491.5 L835.8 492.1 L838.7 493.8 L841.0 495.6 L843.3 496.8 L845.1 491.5 L846.8 487.4 L849.8 486.2 L852.7 485.1 L855.6 484.7 L858.5 486.2 L861.4 488.6 L863.8 491.5 L865.5 493.8 L867.3 493.3 L869.0 491.5 L871.1 489.8 L872.5 492.7 L874.6 493.8" stroke="#d62728"/>
</g>
<path d="M527.00 787.0v7.9M589.00 787.0v7.9M650.00 787.0v7.9M712.00 787.0v7.9M774.00 787.0v7.9M835.00 787.0v7.9M897.00 787.0v7.9M527 787.00h-7M527 733.00h-7M527 680.00h-7M527 626.00h-7M527 573.00h-7M527 519.00h-7M527 465.00h-7" stroke="#000" stroke-width="2" fill="none"/>
<rect x="527" y="464.0" width="370" height="323.0" fill="none" stroke="#000" stroke-width="2"/>
<g font-size="19.1" fill="#000">
<text x="526.70" y="815.00" text-anchor="middle">0</text>
<text x="588.33" y="815.00" text-anchor="middle">250</text>
<text x="649.96" y="815.00" text-anchor="middle">500</text>
<text x="711.59" y="815.00" text-anchor="middle">750</text>
<text x="773.22" y="815.00" text-anchor="middle">1000</text>
<text x="834.85" y="815.00" text-anchor="middle">1250</text>
<text x="896.48" y="815.00" text-anchor="middle">1500</text>
<text x="514.10" y="794.20" text-anchor="end">50</text>
<text x="514.10" y="740.20" text-anchor="end">55</text>
<text x="514.10" y="687.20" text-anchor="end">60</text>
<text x="514.10" y="633.20" text-anchor="end">65</text>
<text x="514.10" y="580.20" text-anchor="end">70</text>
<text x="514.10" y="526.20" text-anchor="end">75</text>
<text x="514.10" y="472.20" text-anchor="end">80</text>
</g>
<text x="712.00" y="452.4" font-size="22.9" text-anchor="middle">WinoGrande</text>
<text x="712.00" y="844" font-size="22.9" text-anchor="middle">Billion of tokens</text>
</g>
<g id="ax5">
<clipPath id="clip5"><rect x="976" y="464.0" width="370" height="323.0"/></clipPath>
<path d="M976.00 464.0V787.0M1037.00 464.0V787.0M1099.00 464.0V787.0M1161.00 464.0V787.0M1222.00 464.0V787.0M1284.00 464.0V787.0M1346.00 464.0V787.0M976 787.00H1346M976 744.00H1346M976 702.00H1346M976 659.00H1346M976 617.00H1346M976 574.00H1346M976 531.00H1346M976 489.00H1346" stroke="#b0b0b0" stroke-width="2" fill="none"/>
<g clip-path="url(#clip5)" fill="none" stroke-width="3.82" stroke-linejoin="round" stroke-linecap="butt">
<path d="M975.75 500.50H1346" stroke="#9467bd" stroke-dasharray="12.6 5.0"/>
<path d="M979.7 795.0 L980.2 787.0 L982.0 744.0 L984.2 710.0 L985.6 690.0 L986.4 675.8 L987.4 663.5 L989.0 651.3 L991.8 639.0 L995.5 626.8 L999.8 614.5 L1002.6 611.9 L1004.9 604.4 L1007.7 599.8 L1010.5 598.8 L1013.3 600.7 L1016.1 602.9 L1018.9 604.1 L1021.7 600.7 L1024.5 599.8 L1027.3 598.8 L1029.5 593.2 L1031.4 591.4 L1034.4 594.2 L1037.5 597.0 L1040.0 595.5 L1042.2 589.5 L1044.5 580.2 L1046.3 574.6 L1048.8 576.4 L1051.2 576.0 L1053.4 574.6 L1056.2 575.5 L1058.6 573.6 L1061.3 577.4 L1064.2 579.2 L1066.5 575.5 L1068.7 569.9 L1071.2 578.3 L1073.6 576.4 L1075.8 577.4 L1078.6 580.2 L1081.0 578.3 L1083.7 574.6 L1086.7 580.2 L1089.3 578.3 L1092.2 573.6 L1094.9 568.0 L1097.3 561.1 L1099.7 561.5 L1102.0 560.5 L1104.2 565.2 L1106.6 561.5 L1109.4 559.2 L1112.2 559.6 L1114.7 565.2 L1116.9 559.2 L1119.7 557.8 L1122.5 559.2 L1125.3 561.1 L1127.7 558.1 L1129.0 555.0 L1130.9 562.4 L1133.3 561.9 L1135.0 562.4 L1136.6 561.1 L1139.0 559.2 L1141.4 560.5 L1143.7 555.0 L1145.9 552.1 L1148.3 556.8 L1150.8 558.7 L1153.0 562.4 L1155.8 557.4 L1158.6 556.3 L1161.4 552.1 L1163.8 549.9 L1166.5 550.7 L1169.4 549.4 L1172.0 548.4 L1174.5 551.8 L1177.3 547.5 L1180.1 545.6 L1182.9 546.5 L1185.1 544.3 L1187.5 546.5 L1190.3 548.0 L1193.2 548.8 L1196.0 548.4 L1198.2 542.8 L1200.6 540.6 L1203.4 541.9 L1205.7 544.7 L1208.6 542.4 L1211.3 541.9 L1213.7 546.5 L1216.1 548.8 L1218.7 545.6 L1221.2 541.9 L1223.6 540.0 L1225.8 538.7" stroke="#1f77b4"/>
<path d="M978.7 795.0 L979.1 787.0 L980.9 744.0 L983.3 710.0 L985.5 683.0 L986.2 669.7 L987.2 653.7 L988.4 639.0 L990.8 626.8 L993.3 614.5 L995.2 606.3 L997.4 595.1 L999.6 590.4 L1002.1 589.5 L1004.9 588.6 L1007.7 584.8 L1010.5 582.0 L1012.3 580.2 L1014.6 587.6 L1017.0 584.8 L1019.8 580.2 L1022.6 575.5 L1025.0 571.8 L1027.3 572.3 L1030.1 571.8 L1032.9 567.1 L1035.7 562.4 L1038.5 569.0 L1041.3 568.0 L1044.1 565.2 L1046.9 562.4 L1049.3 560.5 L1051.2 566.7 L1053.4 560.5 L1055.7 565.2 L1058.1 559.6 L1060.5 562.4 L1062.8 557.8 L1065.0 555.9 L1067.4 559.2 L1070.2 557.4 L1073.0 556.3 L1075.8 552.1 L1078.6 549.4 L1081.0 554.0 L1083.7 551.2 L1086.7 550.7 L1089.3 546.5 L1092.2 545.6 L1094.9 548.4 L1097.3 553.1 L1099.7 555.0 L1102.3 550.3 L1104.8 546.9 L1106.6 546.5 L1109.1 552.1 L1111.7 551.8 L1114.1 553.1 L1116.5 554.0 L1118.8 551.8 L1121.0 551.2 L1123.4 557.8 L1125.9 555.0 L1129.0 550.3 L1131.8 546.5 L1135.0 541.9 L1136.2 541.9 L1139.0 539.5 L1141.4 539.1 L1143.3 530.7 L1145.9 530.1 L1148.3 530.7 L1150.2 528.8 L1152.6 534.4 L1154.9 540.0 L1157.1 541.9 L1159.5 539.1 L1162.0 535.0 L1164.2 534.4 L1166.5 537.6 L1168.9 532.5 L1170.2 527.9 L1172.6 530.7 L1175.0 536.3 L1177.7 540.0 L1180.1 541.9 L1182.5 539.5 L1184.8 540.6 L1187.0 545.6 L1189.4 538.1 L1191.8 535.4 L1194.1 540.6 L1196.3 537.2 L1198.8 536.3 L1201.5 535.0 L1204.3 533.1 L1206.8 536.3 L1209.0 532.5 L1211.8 530.1 L1214.6 529.4 L1217.4 531.6 L1220.2 529.4 L1223.0 528.8 L1225.8 529.4" stroke="#ff7f0e"/>
<path d="M979.0 795.0 L979.4 787.0 L981.2 744.0 L983.2 702.0 L984.6 660.0 L985.7 639.0 L986.8 626.8 L988.1 615.6 L989.9 600.7 L991.8 591.4 L994.6 590.4 L997.0 589.1 L999.3 582.0 L1001.5 579.2 L1003.9 581.1 L1005.8 574.6 L1008.2 568.0 L1010.5 567.1 L1012.7 557.8 L1015.1 561.5 L1017.6 555.0 L1019.8 553.1 L1022.6 554.0 L1025.0 559.2 L1027.3 560.5 L1029.5 555.9 L1032.0 553.1 L1034.4 549.4 L1037.5 546.5 L1040.0 544.7 L1042.2 543.8 L1044.5 550.3 L1046.9 552.1 L1049.3 551.2 L1051.9 556.8 L1054.3 552.1 L1057.2 548.4 L1060.0 546.5 L1062.8 540.0 L1065.0 537.2 L1066.9 535.4 L1069.3 538.7 L1072.1 541.9 L1074.9 543.8 L1077.3 542.8 L1079.6 536.3 L1081.8 538.7 L1084.2 535.4 L1087.0 534.4 L1089.8 533.5 L1092.6 532.0 L1094.9 536.3 L1097.3 538.1 L1099.7 532.5 L1102.0 530.7 L1104.8 529.8 L1107.6 530.1 L1110.4 528.8 L1113.2 526.0 L1116.0 525.1 L1118.4 521.3 L1120.6 524.1 L1123.4 523.2 L1126.2 521.3 L1129.0 520.8 L1131.8 523.2 L1135.0 523.2 L1136.2 520.0 L1138.4 523.2 L1140.9 518.9 L1143.3 523.2 L1145.5 525.1 L1147.8 522.3 L1150.2 521.3 L1152.6 526.0 L1154.9 528.2 L1157.1 527.5 L1159.5 522.3 L1162.0 518.9 L1164.2 516.7 L1166.5 515.2 L1168.9 517.0 L1171.7 518.2 L1174.5 519.5 L1177.3 522.3 L1179.5 517.6 L1182.0 513.9 L1184.4 517.6 L1186.6 511.4 L1189.4 512.9 L1191.8 510.1 L1194.5 508.8 L1196.9 507.3 L1199.3 505.9 L1201.5 510.1 L1204.3 512.6 L1207.2 513.9 L1210.0 514.4 L1212.4 512.0 L1214.6 508.3 L1216.5 512.0 L1218.0 505.5 L1220.2 511.4 L1222.5 509.2 L1224.9 506.4 L1227.3 504.0 L1229.6 503.2 L1232.4 503.6 L1235.2 502.7 L1237.0 500.8 L1238.5 498.4 L1240.8 502.7 L1243.6 502.1 L1246.4 503.2 L1249.2 503.6 L1251.6 504.5 L1253.8 506.4 L1256.6 503.6 L1259.1 506.4 L1260.0 509.0 L1262.3 507.8 L1264.7 505.5 L1267.0 504.1 L1269.1 506.1 L1271.1 507.8 L1273.4 506.9 L1275.8 506.1 L1278.1 504.9 L1280.4 502.9 L1282.8 501.8 L1285.1 500.8 L1287.4 501.4 L1289.8 501.1 L1292.1 500.3 L1294.4 499.1 L1296.2 500.3 L1297.9 504.9 L1299.7 503.8 L1301.4 500.3 L1303.2 499.1 L1304.9 498.5 L1306.4 499.7 L1308.1 495.6 L1309.6 494.4 L1311.3 493.8 L1313.1 493.0 L1314.8 494.4 L1316.6 496.2 L1318.1 499.1 L1319.7 500.3 L1321.3 499.4 L1322.8 499.1" stroke="#2ca02c"/>
<path d="M978.9 722.4 L981.3 701.4 L983.1 682.0 L985.7 659.1 L987.8 651.3 L990.8 639.0 L994.5 626.8 L996.5 619.4 L999.3 608.2 L1002.1 598.8 L1004.5 585.8 L1006.4 581.1 L1009.5 578.3 L1012.0 569.0 L1015.1 565.2 L1018.9 561.5 L1022.6 557.8 L1025.0 547.5 L1028.2 546.2 L1032.0 545.6 L1034.8 545.6 L1037.0 531.6 L1040.3 530.1 L1044.1 529.8 L1046.9 526.0 L1049.7 530.7 L1053.4 526.0 L1057.2 525.1 L1060.9 523.2 L1064.6 521.9 L1068.3 522.6 L1071.7 520.4 L1074.9 518.2 L1078.1 524.1 L1081.4 530.7 L1085.2 529.4 L1088.9 526.0 L1092.6 524.5 L1096.4 522.3 L1099.7 520.0 L1102.9 523.2 L1105.7 526.0 L1109.4 525.1 L1113.2 523.2 L1116.0 521.9 L1118.4 513.9 L1121.6 511.1 L1124.4 512.6 L1128.1 513.9 L1131.8 513.9 L1135.0 514.2 L1140.9 514.4 L1146.5 512.0 L1152.1 510.1 L1157.7 508.8 L1163.3 507.7 L1168.9 505.9 L1174.5 502.7 L1179.1 500.8 L1181.4 498.9 L1183.8 496.7 L1186.6 498.0 L1190.3 499.5 L1196.0 500.2 L1201.5 499.9 L1207.2 497.6 L1212.8 495.2 L1217.4 493.3 L1221.7 492.0 L1224.9 493.9 L1227.7 495.2 L1232.4 494.3 L1238.0 493.3 L1243.6 492.0 L1248.2 490.2 L1252.9 487.7 L1257.6 485.9 L1262.2 486.4 L1262.9 485.9 L1265.8 484.7 L1268.8 485.1 L1271.7 485.4 L1274.0 485.1 L1276.3 483.3 L1278.7 481.8 L1281.6 481.2 L1284.5 481.4 L1288.0 481.0 L1291.5 480.4 L1293.8 481.2 L1296.2 482.4 L1299.1 483.3 L1302.0 484.5 L1304.9 485.9 L1307.3 485.4 L1310.2 484.5 L1313.1 483.1 L1316.0 482.8 L1318.9 482.5 L1320.7 482.8 L1322.8 483.9" stroke="#d62728"/>
</g>
<path d="M976.00 787.0v7.9M1037.00 787.0v7.9M1099.00 787.0v7.9M1161.00 787.0v7.9M1222.00 787.0v7.9M1284.00 787.0v7.9M1346.00 787.0v7.9M976 787.00h-7M976 744.00h-7M976 702.00h-7M976 659.00h-7M976 617.00h-7M976 574.00h-7M976 531.00h-7M976 489.00h-7" stroke="#000" stroke-width="2" fill="none"/>
<rect x="976" y="464.0" width="370" height="323.0" fill="none" stroke="#000" stroke-width="2"/>
<g font-size="19.1" fill="#000">
<text x="975.35" y="815.00" text-anchor="middle">0</text>
<text x="1036.98" y="815.00" text-anchor="middle">250</text>
<text x="1098.61" y="815.00" text-anchor="middle">500</text>
<text x="1160.24" y="815.00" text-anchor="middle">750</text>
<text x="1221.87" y="815.00" text-anchor="middle">1000</text>
<text x="1283.50" y="815.00" text-anchor="middle">1250</text>
<text x="1345.13" y="815.00" text-anchor="middle">1500</text>
<text x="963.10" y="794.20" text-anchor="end">65.0</text>
<text x="963.10" y="751.20" text-anchor="end">67.5</text>
<text x="963.10" y="709.20" text-anchor="end">70.0</text>
<text x="963.10" y="666.20" text-anchor="end">72.5</text>
<text x="963.10" y="624.20" text-anchor="end">75.0</text>
<text x="963.10" y="581.20" text-anchor="end">77.5</text>
<text x="963.10" y="538.20" text-anchor="end">80.0</text>
<text x="963.10" y="496.20" text-anchor="end">82.5</text>
</g>
<text x="1161.00" y="452.4" font-size="22.9" text-anchor="middle">PIQA</text>
<text x="1161.00" y="844" font-size="22.9" text-anchor="middle">Billion of tokens</text>
</g>
<g id="legend">
<rect x="1162.3" y="632.9" width="174.1" height="144.3" rx="3.8" ry="3.8" fill="#fff" fill-opacity="0.8" stroke="#ccc" stroke-opacity="0.8" stroke-width="1.91"/>
<path d="M1168.0 648.00h42.0" stroke="#1f77b4" stroke-width="3.82" fill="none"/>
<text x="1222.8" y="654.80" font-size="19.1">LLaMA 7B</text>
<path d="M1168.0 675.70h42.0" stroke="#ff7f0e" stroke-width="3.82" fill="none"/>
<text x="1222.8" y="682.50" font-size="19.1">LLaMA 13B</text>
<path d="M1168.0 703.40h42.0" stroke="#2ca02c" stroke-width="3.82" fill="none"/>
<text x="1222.8" y="710.20" font-size="19.1">LLaMA 33B</text>
<path d="M1168.0 731.10h42.0" stroke="#d62728" stroke-width="3.82" fill="none"/>
<text x="1222.8" y="737.90" font-size="19.1">LLaMA 65B</text>
<path d="M1169.0 758.80h39.2" stroke="#9467bd" stroke-width="3.82" stroke-dasharray="11.6 4.0" fill="none"/>
<text x="1222.8" y="765.60" font-size="19.1">Chinchilla</text>
</g>
</svg>
</body></html>
